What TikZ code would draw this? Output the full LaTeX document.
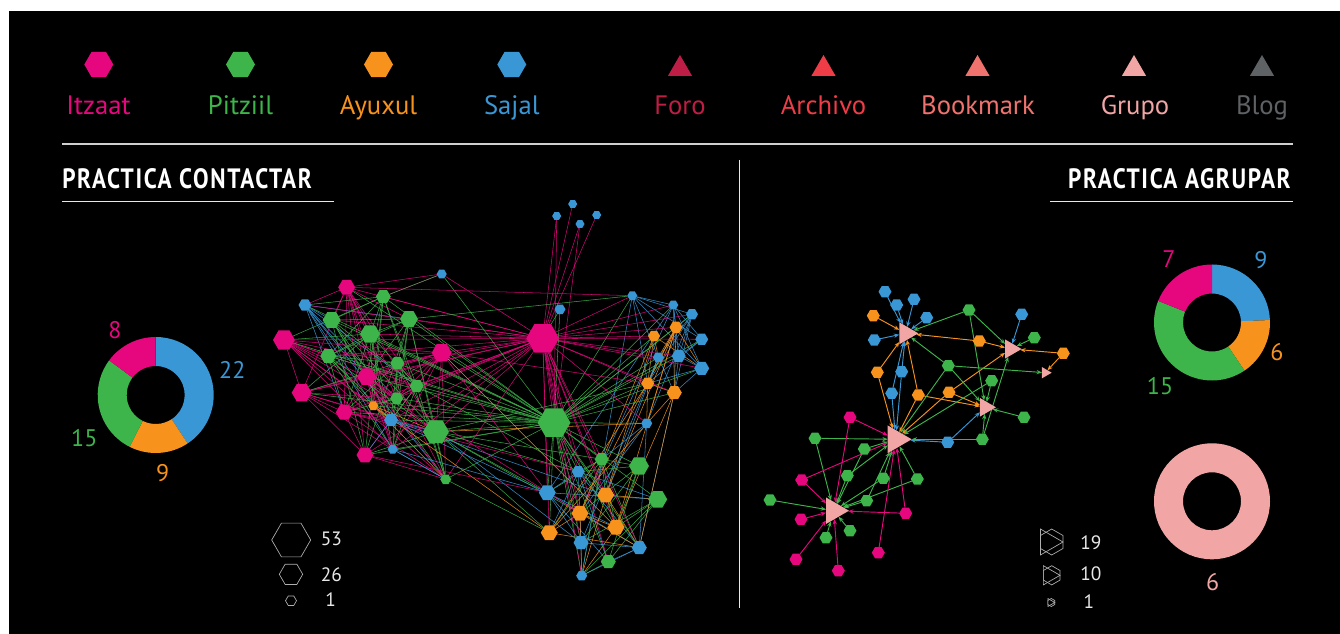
\documentclass[tikz,border=0pt]{standalone}
\usepackage{fontspec}
\setmainfont{PT Sans}
\newfontfamily\titlefont{PT Sans}[FakeStretch=0.83,LetterSpace=6]
\usetikzlibrary{shapes.geometric,arrows.meta,calc}
\definecolor{cM}{HTML}{E6077F}
\definecolor{cG}{HTML}{3DB54A}
\definecolor{cO}{HTML}{F7931D}
\definecolor{cB}{HTML}{3A97D5}
\definecolor{cF}{HTML}{BE1E45}
\definecolor{cA}{HTML}{EE3D47}
\definecolor{cK}{HTML}{F0726F}
\definecolor{cP}{HTML}{F1A5A5}
\definecolor{cL}{HTML}{5E6264}
\definecolor{cW}{HTML}{E8E8E8}
\definecolor{cI}{HTML}{B0B0B0}
\definecolor{cS}{HTML}{CFCFCF}
\pgfdeclarelayer{back}
\pgfdeclarelayer{edges}
\pgfsetlayers{back,edges,main}
\tikzset{
 net/.style={line width=0.4pt, opacity=0.9},
 arr/.style={line width=0.7pt, -{Stealth[length=4pt,width=3.2pt]}},
 hx/.style args={#1/#2}{regular polygon, regular polygon sides=6, fill=#1, draw=none, inner sep=0pt, outer sep=0pt, minimum size={1.5pt*#2}},
 tr/.style args={#1/#2}{regular polygon, regular polygon sides=3, shape border rotate=-90, fill=#1, draw=none, inner sep=0pt, outer sep=0pt, minimum size={1.5pt*#2}},
 legtri/.style={regular polygon, regular polygon sides=3, fill=#1, draw=none, inner sep=0pt, outer sep=0pt, minimum size=21pt},
 leghex/.style={regular polygon, regular polygon sides=6, draw=cI, line width=0.5pt, fill=none, inner sep=0pt, outer sep=0pt, minimum size={1.5pt*#1}},
 lab/.style={anchor=base, inner sep=0pt, font=\fontsize{20}{24}\selectfont},
 num/.style={anchor=base, inner sep=0pt, font=\fontsize{18}{22}\selectfont},
 smallnum/.style={anchor=base, inner sep=0pt, text=cW, font=\fontsize{14.5}{17}\selectfont},
 ttl/.style={inner sep=0pt, text=white, font=\titlefont\bfseries\fontsize{21}{25}\selectfont},
 icon/.style={draw=cI, line width=0.5pt},
}
\newcommand\ringseg[5]{\fill[#5] ($(#1,#2)+(#3:58)$) arc[start angle=#3,end angle=#4,radius=58] -- ($(#1,#2)+(#4:29)$) arc[start angle=#4,end angle=#3,radius=29] -- cycle;}
\newcommand\tricon[3]{%
 \draw[icon] ({#1},{#2-#3}) -- ({#1+0.866*#3},{#2-0.5*#3}) -- ({#1+0.866*#3},{#2+0.5*#3}) -- ({#1},{#2+#3}) -- ({#1-0.866*#3},{#2+0.5*#3}) -- ({#1-0.866*#3},{#2-0.5*#3}) -- cycle;
 \draw[icon] ({#1-0.866*#3},{#2-#3}) -- ({#1-0.866*#3},{#2+#3}) -- ({#1+0.866*#3},{#2}) -- cycle;}
\newcommand\meshdraw[2]{%
 \foreach \a/\ca [count=\i] in #1 {
   \foreach \b/\cb [count=\j] in #1 {
     \ifnum\j>\i
       \pgfmathsetmacro\rr{rnd}
       \ifdim\rr pt<#2pt \draw[net,\ca] (\a) -- (\b); \fi
     \fi
   }
 }}
\newcommand\crossdraw[3]{%
 \foreach \a/\ca in #1 {
   \foreach \b/\cb in #2 {
       \pgfmathsetmacro\rr{rnd}
       \ifdim\rr pt<#3pt \draw[net,\ca] (\a) -- (\b); \fi
   }
 }}
\def\Llist{m1/cM,g1/cG,b1/cB,g2/cG,g3/cG,g4/cG,m2/cM,m3/cM,g5/cG,g6/cG,m4/cM,g7/cG,m5/cM,g8/cG,o1/cO,m6/cM,b2/cB,G/cG,b3/cB,m7/cM,g9/cG}
\def\Rlist{rb1/cB,rb2/cB,rb3/cB,ro1/cO,ro2/cO,rb4/cB,rb5/cB,rb6/cB,rb7/cB,ro3/cO,ro4/cO,rb8/cB}
\def\Blist{bg1/cG,bg2/cG,bb1/cB,bb2/cB,bo1/cO,bg3/cG,bo2/cO,bo3/cO,bo4/cO,bb3/cB,bb4/cB,bg4/cG,bb5/cB}
\begin{document}
\begin{tikzpicture}[x=0.75pt,y=-0.75pt]
\useasboundingbox (0,0) rectangle (1340,634);
\begin{pgfonlayer}{back}
\fill[white] (0,0) rectangle (1340,634);
\fill[black] (9,11) rectangle (1340,634);
\end{pgfonlayer}

% ---- top legend
\node[hx=cM/14.5] (kM) at (98.8,64.5) {};
\node[hx=cG/14.5] (kG) at (240.5,64.5) {};
\node[hx=cO/14.5] (kO) at (378.5,64.5) {};
\node[hx=cB/14.5] (kB) at (511.8,64.5) {};
\node[lab,text=cM] (tM) at (98.5,115) {Itzaat};
\node[lab,text=cG] (tG) at (240.5,115) {Pitziil};
\node[lab,text=cO] (tO) at (378.5,115) {Ayuxul};
\node[lab,text=cB] (tB) at (511.8,115) {Sajal};
\node[legtri=cF] (kF) at (680,69) {};
\node[legtri=cA] (kA) at (823.5,69) {};
\node[legtri=cK] (kK) at (977.5,69) {};
\node[legtri=cP] (kP) at (1134,69) {};
\node[legtri=cL] (kL) at (1262,69) {};
\node[lab,text=cF] (tF) at (680,115) {Foro};
\node[lab,text=cA] (tA) at (823.5,115) {Archivo};
\node[lab,text=cK] (tK) at (978,115) {Bookmark};
\node[lab,text=cP] (tP) at (1135,115) {Grupo};
\node[lab,text=cL] (tL) at (1262,115) {Blog};
\draw[cS,line width=1.5pt] (62,144) -- (1292.6,144);

% ---- titles
\node[ttl,anchor=base west] (h1) at (62,189) {PRACTICA CONTACTAR};
\draw[cW,line width=1.1pt] (62,201.7) -- (333.8,201.7);
\node[ttl,anchor=base east] (h2) at (1291,189) {PRACTICA AGRUPAR};
\draw[cW,line width=1.1pt] (1050,201.7) -- (1292.6,201.7);
\draw[cW,line width=1.1pt] (739.3,160) -- (739.3,608);

% ---- left donut
\ringseg{155.7}{395}{-90}{56.67}{cB}
\ringseg{155.7}{395}{56.67}{116.67}{cO}
\ringseg{155.7}{395}{116.67}{216.67}{cG}
\ringseg{155.7}{395}{216.67}{270}{cM}
\node[num,text=cM] (d1) at (115,338.3) {8};
\node[num,text=cB] (d2) at (232.3,379) {22};
\node[num,text=cG] (d3) at (84.3,446.7) {15};
\node[num,text=cO] (d4) at (162.7,481.7) {9};

% ---- right donuts
\ringseg{1212}{322.5}{-90}{-2.43}{cB}
\ringseg{1212}{322.5}{-2.43}{55.95}{cO}
\ringseg{1212}{322.5}{55.95}{201.89}{cG}
\ringseg{1212}{322.5}{201.89}{270}{cM}
\node[num,text=cM] (e1) at (1169,267.3) {7};
\node[num,text=cB] (e2) at (1261,269) {9};
\node[num,text=cO] (e3) at (1277,360.7) {6};
\node[num,text=cG] (e4) at (1160,395) {15};
\fill[cP,even odd rule] (1212,501.3) circle[radius=58] (1212,501.3) circle[radius=29];
\node[num,text=cP] (e5) at (1212.7,590) {6};

% ---- left size legend
\node[leghex=19.5] (s1) at (291.2,540) {};
\node[leghex=11.7] (s2) at (291,574.3) {};
\node[leghex=5.5] (s3) at (291,600.7) {};
\node[smallnum] (s1t) at (331.3,546) {53};
\node[smallnum] (s2t) at (331.3,581.7) {26};
\node[smallnum] (s3t) at (330.7,606.7) {1};

% ---- right size legend
\tricon{1051.7}{542}{13}
\tricon{1051.7}{575.3}{9.6}
\tricon{1051.3}{602.5}{4}
\node[smallnum] (r1t) at (1090.8,550) {19};
\node[smallnum] (r2t) at (1090.8,581) {10};
\node[smallnum] (r3t) at (1089,609) {1};

% ---- left network nodes
\foreach \n/\x/\y/\rad/\cc in {
 t1/556.7/216/4.5/cB, t2/572.7/204/4.5/cB, t3/580/224/4.5/cB, t4/596.7/215/4.5/cB,
 b4/441.7/274/5/cB, b5/560/309.3/5.5/cB, M/542.7/338.3/16.5/cM, GG/554/422.7/16.5/cG,
 m1/346.7/287.3/8.5/cM, g1/383.3/296.7/7.5/cG, b1/305/305/6.5/cB, g2/331.7/320/9/cG,
 g3/409/319/9/cG, g4/370/334/10/cG, m2/284/340/11/cM, m3/441.7/352.7/10/cM,
 g5/328.3/356/8/cG, g6/397.3/363.3/7/cG, m4/366.7/376.7/9.5/cM, g7/416.7/386/7/cG,
 m5/301.7/392.7/10/cM, g8/396.7/398.3/6.5/cG, o1/373.3/405.7/5/cO, m6/344.3/412.3/8.5/cM,
 b2/391/420/7/cB, G/436/431.7/13/cG, b3/392.7/449.3/5/cB, m7/365/455/8.5/cM, g9/445.7/479.3/5.5/cG,
 rb1/632.3/295.7/5/cB, rb2/673.3/305/5/cB, rb3/692/314.3/6/cB, ro1/676/327.3/6.5/cO,
 ro2/654/336/6/cO, rb4/701.7/339.3/6.5/cB, rb5/658.3/357.3/5.5/cB, rb6/678.7/356/7/cB,
 rb7/701.7/368.3/7.5/cB, ro3/647.7/383.3/6.5/cO, ro4/674.3/392.7/7.5/cO, rb8/646.7/423.3/5.5/cB,
 bg1/601.7/459.3/7/cG, bg2/639/466/10/cG, bb1/578.3/471.7/6.5/cB, bb2/547.3/492.7/8.5/cB,
 bo1/605.7/495/8.5/cO, bg3/657.7/499.3/9.5/cG, bo2/580/513.3/8.5/cO, bo3/616/527.3/8.5/cO,
 bo4/549.3/532.7/8.5/cO, bb3/581/542.7/7.5/cB, bb4/639.3/547.7/7.5/cB, bg4/608.3/561.7/7.5/cG,
 bb5/581.7/575.7/5.5/cB}
 { \node[hx=\cc/\rad] (\n) at (\x,\y) {}; }

% ---- right network nodes
\foreach \n/\x/\y/\cc in {
 ab1/885/291.7/cB, ab2/896.7/305/cB, ab3/914/299.3/cB, ab4/926.7/317.7/cB, ab5/874.3/340/cB,
 ab6/901.7/371.7/cB, ab7/891.7/393.3/cB, ab8/947.7/442.3/cB, ab9/1021.7/314.3/cB,
 ao1/873.3/315.7/cO, ao2/979.3/341/cO, ao3/877.3/372.3/cO, ao4/918.3/395/cO, ao5/949/392.3/cO, ao6/1063.3/353.3/cO,
 ag1/969/310/cG, ag2/1034.3/337.7/cG, ag3/948.3/365.7/cG, ag4/991.7/380.7/cG, ag5/1024/417.3/cG,
 ag6/982.3/439.3/cG, ag7/815/438.3/cG, ag8/864.3/449/cG, ag9/847.3/475.7/cG, ag10/883.3/478.3/cG,
 ag11/917.3/479/cG, ag12/866.7/500.7/cG, ag13/770/500/cG, ag14/826/537.7/cG, ag15/850/530.7/cG,
 am1/850/417.3/cM, am2/801.7/480/cM, am3/801/519.3/cM, am4/905.7/513.3/cM, am5/878.3/552.7/cM,
 am6/796/559.3/cM, am7/838.3/570.7/cM}
 { \node[hx=\cc/6.5] (\n) at (\x,\y) {}; }
\node[tr=cP/12.7] (T1) at (905.6,333.3) {};
\node[tr=cP/11] (T2) at (1010.6,349) {};
\node[tr=cP/6.5] (T3) at (1045.2,372.7) {};
\node[tr=cP/10.7] (T4) at (985.3,407.3) {};
\node[tr=cP/16] (T5) at (895.7,439.3) {};
\node[tr=cP/15.3] (T6) at (833.7,510.7) {};

% ---- edges
\begin{pgfonlayer}{edges}
\pgfmathsetseed{7}
\meshdraw{\Llist}{0.6}
\meshdraw{\Rlist}{0.6}
\meshdraw{\Blist}{0.6}
\crossdraw{\Rlist}{\Blist}{0.12}
\foreach \b/\cb in \Llist {\draw[net,cM] (M) -- (\b); \draw[net,cG] (GG) -- (\b);}
\foreach \b/\cb in \Rlist {\draw[net,cM] (M) -- (\b); \draw[net,cG] (GG) -- (\b);}
\foreach \b/\cb in \Blist {\draw[net,cG] (GG) -- (\b);}
\foreach \b in {bb2,bb1,bo2,bo4,bb3,bo1,bg4,bb4,bo3,bb5,bg1} {\draw[net,cM] (M) -- (\b);}
\foreach \s/\t/\cc in {t1/M/cM,t2/M/cM,t3/M/cM,t4/M/cM,t1/GG/cM,t3/GG/cM,
 b4/m1/cM,b4/g1/cM,b4/GG/cG,b4/M/cM,b5/M/cG,b5/GG/cG,M/GG/cM,
 G/bb2/cG,G/bo4/cG,G/bo2/cG,G/bb1/cG,G/bb3/cB,G/bg1/cG,o1/bo4/cO,m3/bb2/cM,m7/bb2/cM,
 g9/bo4/cG,b3/bb2/cB,b2/bo1/cB,m6/bb1/cM,m4/bo2/cM,g7/bb1/cG,b2/bb2/cB,m3/bo3/cO,
 g3/rb1/cG,m3/ro3/cM,G/ro3/cG,G/rb8/cO,m1/rb1/cM,g1/b4/cG,m7/g9/cM,b3/g9/cB}
 {\draw[net,\cc] (\s) -- (\t);}
\foreach \s/\t/\cc in {
 ab1/T1/cB,ab2/T1/cB,ab3/T1/cB,ab4/T1/cB,ab5/T1/cB,ab6/T1/cB,ab6/T5/cB,ab7/T1/cB,ab7/T5/cB,
 ab8/T5/cB,ab8/T4/cB,ab9/T2/cB,
 ao1/T1/cO,ao2/T1/cO,ao2/T2/cO,ao3/T1/cO,ao3/T5/cO,ao4/T1/cO,ao4/T5/cO,ao4/T4/cO,ao5/T5/cO,
 ao5/T2/cO,ao5/T4/cO,ao6/T2/cO,ao6/T3/cO,
 ag1/T1/cG,ag1/T2/cG,ag1/T4/cG,ag2/T2/cG,ag3/T1/cG,ag3/T3/cG,ag3/T4/cG,ag3/T5/cG,ag4/T5/cG,
 ag4/T4/cG,ag5/T4/cG,ag6/T5/cG,ag6/T4/cG,ag6/T2/cG,ag7/T5/cG,ag7/T6/cG,ag8/T5/cG,ag8/T6/cG,
 ag9/T5/cG,ag9/T6/cG,ag10/T5/cG,ag10/T6/cG,ag11/T5/cG,ag11/T6/cG,ag12/T5/cG,ag12/T6/cG,
 ag13/T6/cG,ag14/T6/cG,ag15/T6/cG,
 am1/T5/cM,am1/T6/cM,am2/T5/cM,am2/T6/cM,am3/T6/cM,am4/T6/cM,am4/T5/cM,am5/T5/cM,am6/T6/cM,am7/T6/cM}
 {\draw[arr,\cc] (\s) -- (\t);}
\end{pgfonlayer}
\end{tikzpicture}
\end{document}
